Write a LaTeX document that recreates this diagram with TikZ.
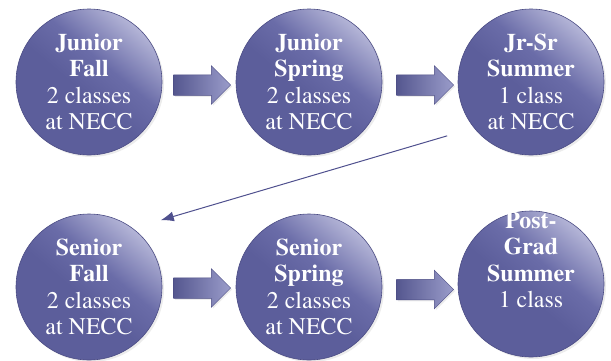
\documentclass[tikz,border=0pt]{standalone}
\usepackage[T1]{fontenc}
\usepackage{mathptmx}
\usepackage{tikz}
\usetikzlibrary{calc,arrows.meta,shapes.arrows,shadows,positioning}

\definecolor{circdark}{HTML}{5C5E9B}
\definecolor{circmid}{HTML}{6A6CA8}
\definecolor{circlight}{HTML}{B4B5D7}
\definecolor{circedge}{HTML}{4B4C84}
\definecolor{arrowdark}{HTML}{55578F}
\definecolor{arrowlight}{HTML}{9A9CCA}
\definecolor{linecol}{HTML}{4F508E}

\pgfdeclareverticalshading{stagefill}{100bp}{color(0bp)=(circdark); color(46bp)=(circdark);
  color(58bp)=(circmid); color(75bp)=(circlight); color(100bp)=(circlight)}

\begin{document}
\begin{tikzpicture}[x=1bp,y=-1bp,
  stage/.style={circle,minimum size=146bp,inner sep=0pt,draw=circedge,line width=0.6bp,
    shading=stagefill,shading angle=-40,
    drop shadow={opacity=0.15,shadow xshift=2bp,shadow yshift=-2bp},
    text=white,align=center,font=\rmfamily\fontsize{24}{26.5}\selectfont},
  blockarrow/.style={single arrow,minimum height=57bp,inner xsep=0pt,inner ysep=10bp,
    single arrow head extend=9bp,draw=circedge,line width=0.5bp,
    left color=arrowdark,right color=arrowlight,
    drop shadow={opacity=0.15,shadow xshift=1.5bp,shadow yshift=-1.5bp}},
  link/.style={draw=linecol,line width=1bp,-{Latex[length=13bp,width=10bp]}}]

\useasboundingbox (0,0) rectangle (611,360);

\node[stage] (jf) at (89,82) {\textbf{Junior}\\\textbf{Fall}\\2 classes\\at NECC};
\node[stage] (js) at (309,82) {\textbf{Junior}\\\textbf{Spring}\\2 classes\\at NECC};
\node[stage] (jss) at (531,82) {\textbf{Jr-Sr}\\\textbf{Summer}\\1 class\\at NECC};

\node[stage] (sf) at (89,287) {\textbf{Senior}\\\textbf{Fall}\\2 classes\\at NECC};
\node[stage] (ss) at (309,287) {\textbf{Senior}\\\textbf{Spring}\\2 classes\\at NECC};
\node[stage,label={[text=white,align=center,font=\rmfamily\fontsize{24}{26.5}\selectfont,yshift=24bp]center:{\textbf{Post-}\\\textbf{Grad}\\\textbf{Summer}\\1 class}}] (pg) at (531,284) {};

\node[blockarrow] (a1) at ($(jf)!0.5!(js)+(-2,3)$) {};
\node[blockarrow] (a2) at ($(js)!0.5!(jss)+(0,3)$) {};
\node[blockarrow] (a3) at ($(sf)!0.5!(ss)+(-2,1)$) {};
\node[blockarrow] (a4) at ($(ss)!0.5!(pg)+(0,4)$) {};

\draw[link] ([shift={(-32,2)}]jss.south west) -- ([shift={(20,-15)}]sf.north east);

\end{tikzpicture}
\end{document}
